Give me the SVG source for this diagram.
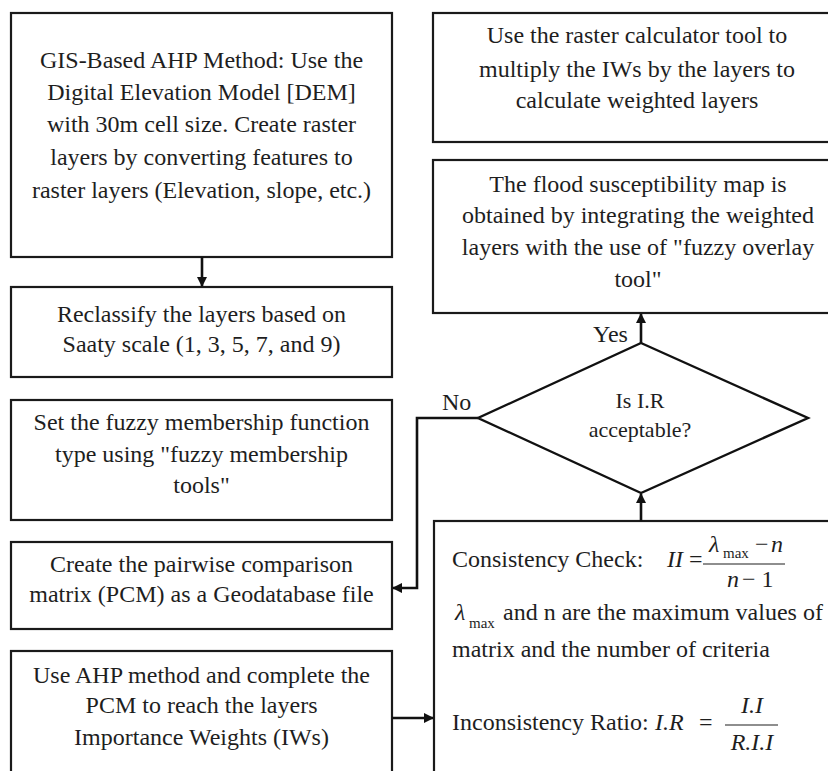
<svg xmlns="http://www.w3.org/2000/svg" width="828" height="771" viewBox="0 0 828 771" font-family="'Liberation Serif', 'Times New Roman', serif">
<defs>
<style>
.box{fill:#fff;stroke:#1a1a1a;stroke-width:2.2}
text{font-family:'Liberation Serif','Times New Roman',serif;font-size:24px;fill:#1e1e1e}
.t{text-anchor:middle}
.m{font-style:italic}
.s{font-size:15px}
.c{fill:none;stroke:#111;stroke-width:2.6}
.bar{stroke:#1e1e1e;stroke-width:1.2}
</style>
<marker id="ah" viewBox="0 0 10 10" refX="9" refY="5" markerWidth="4" markerHeight="4" orient="auto" markerUnits="strokeWidth">
<path d="M0,0 L10,5 L0,10 Z" fill="#111"/>
</marker>
</defs>
<rect width="828" height="771" fill="#fff"/>

<g id="n1">
<rect class="box" x="11" y="13" width="381" height="244"/>
<text class="t" x="201.5" y="68">GIS-Based AHP Method: Use the</text>
<text class="t" x="201.5" y="100">Digital Elevation Model [DEM]</text>
<text class="t" x="201.5" y="132">with 30m cell size. Create raster</text>
<text class="t" x="201.5" y="165">layers by converting features to</text>
<text class="t" x="201.5" y="198">raster layers (Elevation, slope, etc.)</text>
</g>

<g id="n2">
<rect class="box" x="11" y="287" width="381" height="90"/>
<text class="t" x="201.5" y="322">Reclassify the layers based on</text>
<text class="t" x="201.5" y="352">Saaty scale (1, 3, 5, 7, and 9)</text>
</g>

<g id="n3">
<rect class="box" x="11" y="400" width="381" height="120"/>
<text class="t" x="201.5" y="430">Set the fuzzy membership function</text>
<text class="t" x="201.5" y="462">type using "fuzzy membership</text>
<text class="t" x="201.5" y="493">tools"</text>
</g>

<g id="n4">
<rect class="box" x="11" y="542" width="381" height="87"/>
<text class="t" x="201.5" y="572">Create the pairwise comparison</text>
<text class="t" x="201.5" y="602">matrix (PCM) as a Geodatabase file</text>
</g>

<g id="n5">
<rect class="box" x="11" y="651" width="381" height="140"/>
<text class="t" x="201.5" y="683">Use AHP method and complete the</text>
<text class="t" x="201.5" y="713">PCM to reach the layers</text>
<text class="t" x="201.5" y="745">Importance Weights (IWs)</text>
</g>

<g id="nA">
<rect class="box" x="433" y="13" width="410" height="129"/>
<text class="t" x="637" y="43">Use the raster calculator tool to</text>
<text class="t" x="637" y="77">multiply the IWs by the layers to</text>
<text class="t" x="637" y="108">calculate weighted layers</text>
</g>

<g id="nB">
<rect class="box" x="433" y="160" width="410" height="153"/>
<text class="t" x="638" y="192">The flood susceptibility map is</text>
<text class="t" x="638" y="223">obtained by integrating the weighted</text>
<text class="t" x="638" y="255">layers with the use of "fuzzy overlay</text>
<text class="t" x="638" y="287">tool"</text>
</g>

<g id="nD">
<polygon points="641,343 808,418 641,493 478,418" fill="#fff" stroke="#111" stroke-width="2.4"/>
<text class="t" x="640" y="408" style="font-size:22px">Is I.R</text>
<text class="t" x="640" y="437" style="font-size:22px">acceptable?</text>
</g>

<g id="nC">
<rect class="box" x="434" y="521" width="410" height="270"/>
<text x="452" y="567">Consistency Check:</text>
<text class="m" x="667" y="567">II</text>
<text x="689" y="567">=</text>
<text class="m" x="709" y="552">λ</text>
<text class="s" x="723" y="558">max</text>
<text x="755" y="552">−</text>
<text class="m" x="771" y="552">n</text>
<line class="bar" x1="703" y1="564" x2="785" y2="564"/>
<text class="m" x="727" y="587">n</text>
<text x="742" y="587">− 1</text>
<text class="m" x="455" y="620">λ</text>
<text class="s" x="469" y="628">max</text>
<text x="503" y="620">and n are the maximum values of</text>
<text x="452" y="657">matrix and the number of criteria</text>
<text x="452" y="730">Inconsistency Ratio:</text>
<text class="m" x="655" y="730">I.R</text>
<text x="699" y="730">=</text>
<text class="m t" x="752" y="713">I.I</text>
<line class="bar" x1="725" y1="725" x2="778" y2="725"/>
<text class="m t" x="752" y="750">R.I.I</text>
</g>

<g id="connectors">
<line class="c" x1="202" y1="257" x2="202" y2="286" marker-end="url(#ah)"/>
<line class="c" x1="641" y1="343" x2="641" y2="314" marker-end="url(#ah)"/>
<line class="c" x1="641" y1="521" x2="641" y2="494" marker-end="url(#ah)"/>
<polyline class="c" points="478,418 417,418 417,588 393,588" marker-end="url(#ah)"/>
<line class="c" x1="392" y1="718" x2="433" y2="718" marker-end="url(#ah)"/>
<text x="442" y="410">No</text>
<text x="593" y="342">Yes</text>
</g>
</svg>
